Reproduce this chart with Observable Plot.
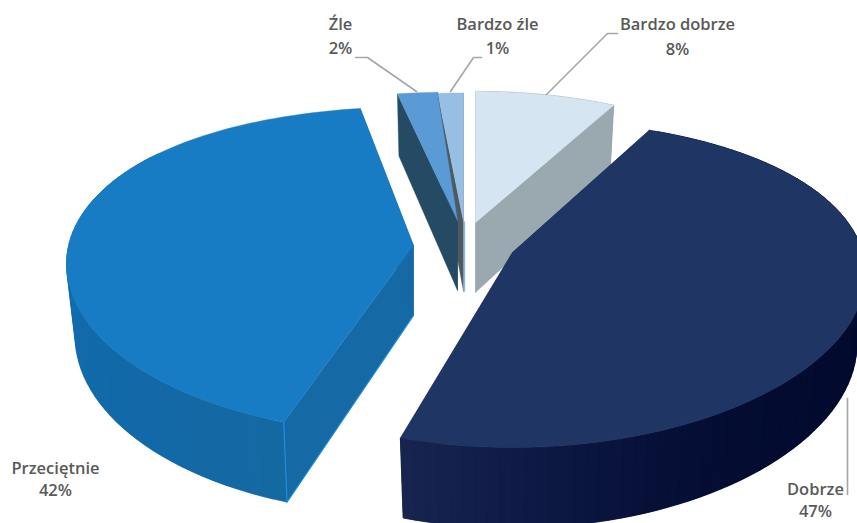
<!DOCTYPE html>
<html><head><meta charset="utf-8">
<script src="https://cdn.jsdelivr.net/npm/d3@7"></script>
<script src="https://cdn.jsdelivr.net/npm/@observablehq/plot@0.6"></script>
<style>html,body{margin:0;padding:0;background:#fff}svg{display:block}</style>
</head><body><div id="chart"></div>
<script>
const categories = ["Bardzo dobrze", "Dobrze", "Przeciętnie", "Źle", "Bardzo źle"];
const percents = [8, 47, 42, 2, 1];

// projection of each exploded slice (order matches categories)
const apexX = [475, 512, 413, 457, 463];
const apexY = [222, 252, 245, 220, 221];
const radiusX = [322, 310, 340, 365, 470];
const radiusY = [156, 158, 160, 153, 153];
const perspX = [.14, .142, .2, .14, .14];
const perspY = [.19, .19, .154, .19, .19];
const stretch = [0, .13, 0, 0, 0];
const lift = [0, 0, -15, 0, 0];
const topColors = ["#d5e5f1", "#1f3564", "#187cc4", "#5b9bd5", "#97bfe3"];
const innerColors = ["#9aa8af", "#14224f", "#1569a5", "#254a63", "#4f5a60"];
const wallStops = [
  ["#9aa8af", "#9aa8af"],
  ["#000a2c", "#000a2c", "#010a2c", "#010a2d", "#020a2e", "#030b30", "#050e35", "#0e1a45", "#16244f"],
  ["#1569a3", "#1268a8", "#116dae", "#1272b4", "#1878ba", "#1878ba"],
  ["#254a63", "#254a63"],
  ["#4f5a60", "#4f5a60"]
];
const paintOrder = [0, 4, 3, 2, 1];

// labels and leaders
const labelLines = ["Bardzo dobrze", "8%", "Dobrze", "47%", "Przeciętnie", "42%", "Źle", "2%", "Bardzo źle", "1%"];
const labelX = [677, 677, 815, 815, 55, 55, 340, 340, 497, 497];
const labelY = [24, 49, 489, 511, 468, 490, 24, 48, 24, 48];
const leaderId = [0, 0, 0, 1, 1, 2, 2, 2, 3, 3, 3];
const leaderX = [617, 607, 546, 847, 847, 355, 367, 416, 481, 473, 450];
const leaderY = [33, 33, 94, 398, 494, 57, 57, 91, 57, 57, 91];

const rad = Math.PI / 180;
const shares = percents.map(p => p / d3.sum(percents) * 360);
const starts = d3.cumsum([0, ...shares]);

function P(i, deg, r, z) {
  const s = Math.sin(deg * rad), c = Math.cos(deg * rad);
  const f = 1 + stretch[i] * s * s;
  const x = apexX[i] + r * f * radiusX[i] * s / (1 + perspX[i] * c);
  const y = apexY[i] - r * f * radiusY[i] * c / (1 + perspY[i] * c) + r * lift[i] * s * s;
  const depth = 70 / (1 + .13 * c * r);
  return {x: x + (apexX[i] - x) * .025 * z, y: y + depth * z};
}

const faces = [];
let uid = 0;
function face(pts, color) {
  const id = uid++;
  [...pts, pts[0]].forEach(p => faces.push({x: p.x, y: p.y, id, color}));
}
function arcPts(i, a, b, z) {
  const n = Math.max(2, Math.ceil(Math.abs(b - a) / 2));
  return d3.range(n + 1).map(k => P(i, a + (b - a) * k / n, 1, z));
}

for (const i of paintOrder) {
  const a = starts[i], b = starts[i + 1];
  const O = z => P(i, a, 0, z);
  // radial cut walls
  face([O(0), P(i, a, 1, 0), P(i, a, 1, 1), O(1)], innerColors[i]);
  face([O(0), P(i, b, 1, 0), P(i, b, 1, 1), O(1)], innerColors[i]);
  // curved outer wall in overlapping shaded strips
  const color = d3.interpolateRgbBasis(wallStops[i]);
  const top = arcPts(i, a, b, 0), bot = arcPts(i, a, b, 1);
  const last = top.length - 1;
  for (let k = 0; k < last; k++) {
    if (i === 1 || (a + (b - a) * k / last) < 300) {
      const e = Math.min(last, k + 2);
      const t = [], u = [];
      for (let m = k; m <= e; m++) { t.push(top[m]); u.unshift(bot[m]); }
      face([...t, ...u], color(k / (last - 1)));
    }
  }
  if (i === 4) face([O(0), O(1), {x: O(1).x + 1.5, y: O(1).y}, {x: O(0).x + 1.5, y: O(0).y}], "#8fb8da");
  // top surface
  face([O(0), ...top], topColors[i]);
}

// bright edge along the front corner of the Przeciętnie slice
const edge = [P(2, starts[3], 0, 1), P(2, starts[2], 1, 1), P(2, starts[2], 1, 0)];

const labels = labelLines.map((t, i) => ({t, x: labelX[i], y: labelY[i]}));
const leaders = leaderX.map((x, i) => ({x, y: leaderY[i], id: leaderId[i]}));

const chart = Plot.plot({
  width: 857, height: 523,
  marginTop: 0, marginRight: 0, marginBottom: 0, marginLeft: 0,
  x: {domain: [0, 857], axis: null},
  y: {domain: [523, 0], axis: null},
  color: {type: "identity"},
  style: {background: "#fff"},
  marks: [
    Plot.line(faces, {x: "x", y: "y", z: "id", fill: "color", stroke: "color", strokeWidth: .4, strokeLinejoin: "round"}),
    Plot.line(edge, {x: "x", y: "y", stroke: "#1c8fdc", strokeWidth: 1.2}),
    Plot.line(leaders, {x: "x", y: "y", z: "id", stroke: "#a6a6a6", strokeWidth: 1.6}),
    Plot.text(labels, {x: "x", y: "y", text: "t", fill: "#595959", fontSize: 16.5, fontWeight: 600,
      fontFamily: "'Open Sans', sans-serif", textAnchor: "middle", lineAnchor: "middle"})
  ]
});
document.getElementById("chart").append(chart);
</script>
</body></html>
